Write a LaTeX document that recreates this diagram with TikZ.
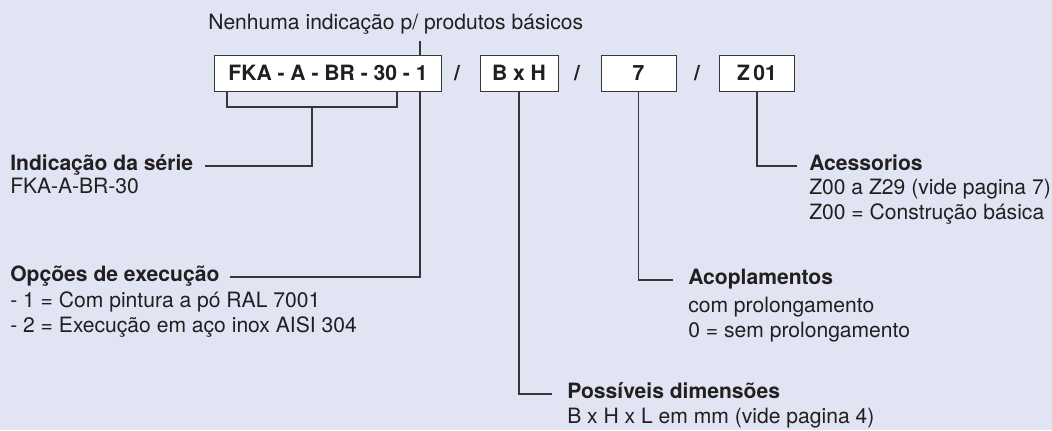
\documentclass[tikz,border=0pt]{standalone}
\usepackage{fontspec}
\setmainfont{TeX Gyre Heros}
\usetikzlibrary{calc}

\definecolor{paper}{RGB}{225,228,243}
\definecolor{ink}{RGB}{35,31,32}
\definecolor{linegray}{RGB}{55,55,55}

\tikzset{
  codebox/.style={draw=linegray, fill=white, line width=0.7pt, minimum height=0.9cm, inner sep=0pt, text=ink, font=\fontsize{15}{17}\selectfont\bfseries},
  slash/.style={inner sep=0pt, text=ink, font=\fontsize{15}{17}\selectfont\bfseries},
  head/.style={inner sep=0pt, anchor=west, text height=10pt, text depth=3pt, text=ink, font=\fontsize{15}{17.5}\selectfont\bfseries},
  desc/.style={inner sep=0pt, anchor=north west, align=left, text=ink, font=\fontsize{15}{17.5}\selectfont},
  link/.style={draw=linegray, line width=0.8pt},
}

\begin{document}
\begin{tikzpicture}[x=0.025cm, y=-0.025cm]
        \fill[paper] (0,0) rectangle (1052,430);

        % code boxes
        \node[codebox, minimum width=5.65cm] (fka) at (328,73) {FKA - A - BR - 30 - 1};
        \node[slash] (s1) at (457,73) {/};
        \node[codebox, minimum width=1.95cm] (bxh) at (519,73) {B x H};
        \node[slash] (s2) at (577,73) {/};
        \node[codebox, minimum width=1.875cm] (cpl) at (638.5,73) {7};
        \node[slash] (s3) at (697,73) {/};
        \node[codebox, minimum width=1.875cm] (acs) at (757,73) {Z\,01};

        \node[anchor=base west, inner sep=0pt, text=ink, font=\fontsize{15}{17.5}\selectfont] (nenh) at (208,29) {Nenhuma indicação p/ produtos básicos};
        \coordinate (opt) at (420,73);

        % labels
        \node[head] (ind) at (10,166) {Indicação da série};
        \node[desc] (indd) at (10,176) {\strut FKA-A-BR-30};
        \node[head] (opc) at (10,277) {Opções de execução};
        \node[desc] (opcd) at (10,290) {\strut - 1 = Com pintura a pó RAL 7001\\- 2 = Execução em aço inox AISI 304};
        \node[head] (pos) at (567,394) {Possíveis dimensões};
        \node[desc] (posd) at (567,406) {\strut B x H x L em mm (vide pagina 4)};
        \node[head] (aco) at (688,280) {Acoplamentos};
        \node[desc] (acod) at (688,295) {\strut com prolongamento\\0 = sem prolongamento};
        \node[head] (ace) at (809,166) {Acessorios};
        \node[desc] (aced) at (809,177) {\strut Z00 a Z29 (vide pagina 7)\\Z00 = Construção básica};

        % connectors
        \draw[link] ([yshift=-5pt]nenh.south -| opt) -- (opt |- fka.north);
        \draw[link] (opt |- fka.south) |- ([xshift=7pt]opc.east);
        \coordinate (brl) at (227,107);
        \coordinate (brr) at (397,107);
        \draw[link] (brl |- fka.south) -- (brl) -- (brr) -- (brr |- fka.south);
        \draw[link] ($(brl)!0.5!(brr)$) |- ([xshift=8.5pt]ind.east);
        \draw[link] (bxh.south) |- ([xshift=-10.5pt]pos.west);
        \draw[link] (cpl.south) |- ([xshift=-10.5pt]aco.west);
        \draw[link] (acs.south) |- ([xshift=-8.5pt]ace.west);
\end{tikzpicture}
\end{document}
